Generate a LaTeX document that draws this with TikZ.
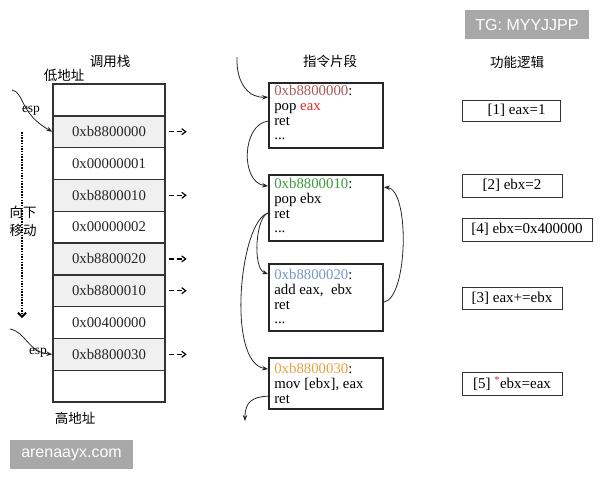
\documentclass[tikz,border=0pt]{standalone}
\usepackage{fontspec}
\setmainfont{Liberation Serif}
\newfontfamily\cjk{Noto Sans CJK SC}
\newfontfamily\wmfont{Liberation Sans}
\usetikzlibrary{arrows.meta,calc}
\definecolor{rowgray}{HTML}{F0F0F0}
\definecolor{edgegray}{HTML}{333333}
\definecolor{addrA}{HTML}{A85858}
\definecolor{regred}{HTML}{E02828}
\definecolor{addrB}{HTML}{3C9A3C}
\definecolor{addrC}{HTML}{7598C8}
\definecolor{addrD}{HTML}{E8A040}
\definecolor{wmgray}{HTML}{A8A8A8}
\begin{document}
\begin{tikzpicture}[x=1pt,y=-1pt,
  stackrow/.style={draw=edgegray,line width=1.4pt,minimum width=112pt,minimum height=31.8pt,inner sep=0pt,text=black!85,font=\fontsize{14.8}{16}\selectfont},
  codebox/.style={draw=black!85,line width=1.8pt,minimum width=114pt,inner sep=0pt},
  codetext/.style={anchor=north west,align=left,inner sep=0pt,font=\fontsize{14.8}{14.8}\selectfont},
  logicbox/.style={draw=black!80,line width=0.9pt,minimum height=22pt,inner sep=0pt,font=\fontsize{15}{16}\selectfont},
  title/.style={font=\cjk\fontsize{13.5}{15}\selectfont,inner sep=0pt},
  arr/.style={-{Stealth[length=6pt,width=4.5pt]},line width=0.8pt,black!85},
  dsh/.style={-{Straight Barb[length=4pt,width=6pt]},line width=1.2pt,dash pattern=on 5pt off 3pt},
  wm/.style={fill=wmgray,text=white,inner sep=0pt,font=\wmfont\fontsize{16}{18}\selectfont}
]
\useasboundingbox (0,0) rectangle (600,480);

% titles
\node[title] (tstack) at (110,61) {调用栈};
\node[title] (tcode) at (330,61) {指令片段};
\node[title] (tlogic) at (517,62) {功能逻辑};
\node[title] (low) at (64,75) {低地址};
\node[title] (high) at (75,418) {高地址};

% stack
\foreach \i/\t/\c in {0//white,1/0xb8800000/rowgray,2/0x00000001/white,3/0xb8800010/rowgray,4/0x00000002/white,5/0xb8800020/rowgray,6/0xb8800010/rowgray,7/0x00400000/white,8/0xb8800030/rowgray,9//white}
  \node[stackrow,fill=\c] (s\i) at (109,{99.9+31.8*\i}) {\t};

\foreach \i in {1,3,5,6,8}
  \draw[dsh] ([xshift=3pt]s\i.east) -- ([xshift=21pt]s\i.east);

% esp pointers
\node[inner sep=0pt,font=\fontsize{13.5}{15}\selectfont] (esp1) at (31,111) {esp};
\coordinate (e1) at (12,90);
\draw[arr] (e1) .. controls (24,92) and (20,114) .. (s1.west);
\node[inner sep=0pt,font=\fontsize{13.5}{15}\selectfont] (esp2) at (38,353) {esp};
\coordinate (e2) at (10,329);
\draw[arr] (e2) .. controls (26,332) and (28,352) .. (s8.west);

% move down
\coordinate (d1) at (22,132);
\coordinate (d2) at (22,318);
\draw[-{Straight Barb[length=4pt,width=8pt]},line width=1.8pt,dash pattern=on 1.5pt off 1.2pt] (d1) -- (d2);
\node[title,align=center,font=\cjk\fontsize{13.5}{18}\selectfont] (mv) at (23,221) {向下\\移动};

% code boxes
\node[codebox,minimum height=65pt] (b1) at (326,115.5) {};
\node[codebox,minimum height=66pt] (b2) at (326,208) {};
\node[codebox,minimum height=67pt] (b3) at (326,297.5) {};
\node[codebox,minimum height=51pt] (b4) at (326,383.5) {};

\node[codetext] (t1) at ([xshift=6pt,yshift=-3pt]b1.north west) {\textcolor{addrA}{0xb8800000}:\\pop \textcolor{regred}{eax}\\ret\\...};
\node[codetext] (t2) at ([xshift=6pt,yshift=-4pt]b2.north west) {\textcolor{addrB}{0xb8800010}:\\pop ebx\\ret\\...};
\node[codetext] (t3) at ([xshift=6pt,yshift=-6pt]b3.north west) {\textcolor{addrC}{0xb8800020}:\\add eax,~~ebx\\ret\\...};
\node[codetext] (t4) at ([xshift=6pt,yshift=-6pt]b4.north west) {\textcolor{addrD}{0xb8800030}:\\mov [ebx], eax\\ret};

% control-flow arrows
\coordinate (in1) at (237,57);
\draw[arr] (in1) .. controls (236,85) and (250,98) .. ([yshift=-15pt]b1.north west);
\draw[arr] ([yshift=-39pt]b1.north west) .. controls (242,124) and (240,182) .. ([yshift=-12pt]b2.north west);
\draw[arr] ([yshift=-39pt]b2.north west) .. controls (256,216) and (252,268) .. ([yshift=-11pt]b3.north west);
\draw[arr] ([yshift=-39pt]b2.north west) .. controls (240,220) and (226,362) .. ([yshift=-12pt]b4.north west);
\draw[arr] ([yshift=-39pt]b3.north east) .. controls (408,298) and (410,190) .. ([yshift=-13pt]b2.north east);
\coordinate (out1) at (245,421);
\draw[arr] ([yshift=-39pt]b4.north west) .. controls (252,397) and (245,402) .. (out1);

% logic boxes
\node[logicbox,minimum width=98pt,minimum height=21pt] (r1) at (511,110.5) {~~~[1] eax=1};
\node[logicbox,minimum width=100pt,minimum height=23pt] (r2) at (512,185.5) {[2] ebx=2};
\node[logicbox,minimum width=130pt,minimum height=23pt] (r4) at (527,229.5) {[4] ebx=0x400000};
\node[logicbox,minimum width=100pt,minimum height=22pt] (r3) at (512,298) {[3] eax+=ebx};
\node[logicbox,minimum width=100pt,minimum height=23pt] (r5) at (512,383.5) {[5] \textsuperscript{\textcolor{regred}{*}}ebx=eax};

% watermarks
\node[wm,minimum width=124pt,minimum height=29pt] (wm1) at (527,24.5) {TG: MYYJJPP};
\node[wm,minimum width=123pt,minimum height=29pt] (wm2) at (71.5,454.5) {arenaayx.com};
\end{tikzpicture}
\end{document}
